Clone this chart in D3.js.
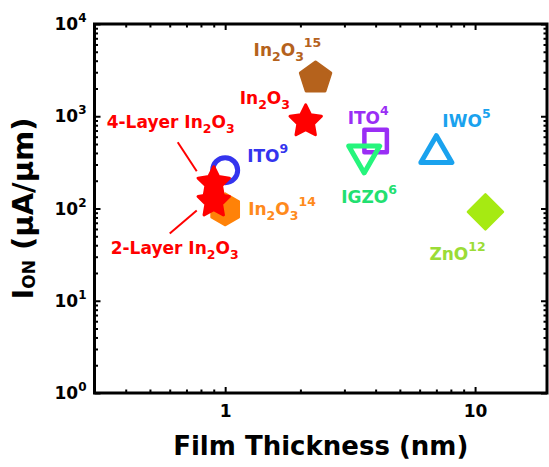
<!DOCTYPE html>
<meta charset="utf-8">
<style> /* set the CSS */

body { margin: 0; background: #fff; }

text {
  font-family: "DejaVu Sans", sans-serif;
  font-weight: bold;
}

.frame {
  fill: none;
  stroke: #000;
  stroke-width: 3px;
}

.axis path { display: none; }
.axis line { stroke: #000; stroke-width: 2px; }
.axis text { font-size: 17px; fill: #000; font-family: "DejaVu Sans", sans-serif; }

</style>
<body>

<!-- load the d3.js library -->
<script src="https://d3js.org/d3.v7.min.js"></script>

<script>

// the data
var samples   = ["ITO9", "In2O3-14", "4-Layer", "2-Layer", "In2O3", "In2O3-15", "ITO4", "IGZO6", "IWO5", "ZnO12"];
var thickness = [1.0, 1.0, 0.9, 0.9, 2.1, 2.3, 4.0, 3.6, 7.0, 11];
var ion       = [260, 98, 188, 119, 880, 2600, 540, 340, 440, 92];
var labels    = ["ITO^9", "In_2O_3^14", "4-Layer In_2O_3", "2-Layer In_2O_3", "In_2O_3",
                 "In_2O_3^15", "ITO^4", "IGZO^6", "IWO^5", "ZnO^12"];

// tick labels
var xTicks = [1, 10];
var xTickLabels = ["1", "10"];
var yTicks = [1, 10, 100, 1000, 10000];
var yTickExp = ["0", "1", "2", "3", "4"];

// marker styles
var shapes = ["circle", "hexagon", "star", "star", "star", "pentagon", "square", "triDown", "triUp", "diamond"];
var colors = ["#3434ee", "#ff8208", "#ff0000", "#ff0000", "#ff0000", "#b5621c", "#9a2ef5", "#25f57c", "#1aa2ee", "#a6ea12"];
var textColors = ["#3434ee", "#ff8a1c", "#ff0000", "#ff0000", "#ff0000", "#b5621c", "#9a2ef5", "#22e070", "#1aa2ee", "#9bdc36"];

// where each label sits, relative to its marker (text start, baseline)
var labelOffsets = [[22, -8], [23, 6], [-107, -55], [-103, 52], [-66, -17],
                    [-62, -22], [-28, -17], [-23, 44], [6, -22], [-56, 48]];
// leader lines: sample index, from (dx, dy) to (dx, dy)
var leaders = [[2, -36, -41, -17, -12], [3, -17, 9, -44, 32]];

// plot box
var width = 549, height = 467;
var pLeft = 94.5, pRight = 547, pTop = 24, pBottom = 393;

// set the ranges
var x = d3.scaleLog().domain([0.3, 19.4]).range([pLeft, pRight]);
var y = d3.scaleLog().domain([1, 10000]).range([pBottom, pTop]);

var svg = d3.select("body").append("svg")
    .attr("width", width)
    .attr("height", height);

// minor ticks
var xMinor = [];
[0.1, 1].forEach(function(d) {
  for (var i = 2; i < 10; i++) {
    var v = d * i;
    if (v > 0.3 && v < 19.4) xMinor.push(v);
  }
});
var yMinor = [];
[1, 10, 100, 1000].forEach(function(d) {
  for (var i = 2; i < 10; i++) yMinor.push(d * i);
});

// Add the X axes (ticks pointing in)
svg.append("g")
    .attr("class", "axis")
    .attr("transform", "translate(0," + pBottom + ")")
    .call(d3.axisBottom(x).tickValues(xTicks).tickSize(-6).tickPadding(12)
      .tickFormat(function(d, i) { return xTickLabels[i]; }));
svg.append("g")
    .attr("class", "axis")
    .attr("transform", "translate(0," + pBottom + ")")
    .call(d3.axisBottom(x).tickValues(xMinor).tickSize(-3.5).tickFormat(""));
svg.append("g")
    .attr("class", "axis")
    .attr("transform", "translate(0," + pTop + ")")
    .call(d3.axisTop(x).tickValues(xTicks).tickSize(-6).tickFormat(""));
svg.append("g")
    .attr("class", "axis")
    .attr("transform", "translate(0," + pTop + ")")
    .call(d3.axisTop(x).tickValues(xMinor).tickSize(-3.5).tickFormat(""));

// Add the Y axes
svg.append("g")
    .attr("class", "axis")
    .attr("transform", "translate(" + pLeft + ",0)")
    .call(d3.axisLeft(y).tickValues(yTicks).tickSize(-6).tickFormat(""));
svg.append("g")
    .attr("class", "axis")
    .attr("transform", "translate(" + pLeft + ",0)")
    .call(d3.axisLeft(y).tickValues(yMinor).tickSize(-3.5).tickFormat(""));
svg.append("g")
    .attr("class", "axis")
    .attr("transform", "translate(" + pRight + ",0)")
    .call(d3.axisRight(y).tickValues(yTicks).tickSize(-6).tickFormat(""));
svg.append("g")
    .attr("class", "axis")
    .attr("transform", "translate(" + pRight + ",0)")
    .call(d3.axisRight(y).tickValues(yMinor).tickSize(-3.5).tickFormat(""));

// y tick labels, 10 with a superscript
var yl = svg.append("g").selectAll("text")
    .data(yTicks)
  .enter().append("text")
    .attr("x", pLeft - 8)
    .attr("y", function(d) { return y(d) + 6; })
    .attr("text-anchor", "end")
    .style("font-size", "17px");
yl.append("tspan").text("10");
yl.append("tspan")
    .attr("dy", -8)
    .style("font-size", "12px")
    .text(function(d, i) { return yTickExp[i]; });

// frame
svg.append("rect")
    .attr("class", "frame")
    .attr("x", pLeft)
    .attr("y", pTop)
    .attr("width", pRight - pLeft)
    .attr("height", pBottom - pTop);

// marker shapes, size = radius
function polygon(n, rot) {
  return { draw: function(ctx, r) {
    for (var i = 0; i < n; i++) {
      var a = rot + i * 2 * Math.PI / n;
      if (i == 0) ctx.moveTo(r * Math.sin(a), -r * Math.cos(a));
      else ctx.lineTo(r * Math.sin(a), -r * Math.cos(a));
    }
    ctx.closePath();
  }};
}
function triangle(dir) {
  return { draw: function(ctx, r) {
    var h = 0.75 * r * dir, w = 0.866 * r;
    ctx.moveTo(0, -h);
    ctx.lineTo(w, h);
    ctx.lineTo(-w, h);
    ctx.closePath();
  }};
}
var starType = { draw: function(ctx, r) {
  for (var i = 0; i < 10; i++) {
    var a = i * Math.PI / 5, rr = i % 2 ? r * 0.5 : r;
    if (i == 0) ctx.moveTo(rr * Math.sin(a), -rr * Math.cos(a));
    else ctx.lineTo(rr * Math.sin(a), -rr * Math.cos(a));
  }
  ctx.closePath();
}};
var circleType = { draw: function(ctx, r) {
  ctx.moveTo(r, 0);
  ctx.arc(0, 0, r, 0, 2 * Math.PI);
}};

var shapeTypes = {
  circle:   { type: circleType, r: 12.5, fill: false, sw: 5 },
  hexagon:  { type: polygon(6, 0), r: 16, fill: true, sw: 2 },
  star:     { type: starType, r: 16.5, fill: true, sw: 3 },
  pentagon: { type: polygon(5, 0), r: 16, fill: true, sw: 3 },
  square:   { type: polygon(4, Math.PI / 4), r: 15.9, fill: false, sw: 4.5 },
  triDown:  { type: triangle(-1), r: 17.9, fill: false, sw: 5 },
  triUp:    { type: triangle(1), r: 17.9, fill: false, sw: 5 },
  diamond:  { type: polygon(4, 0), r: 17.5, fill: true, sw: 2.5 }
};

// Add the markers
svg.append("g").selectAll("path")
    .data(samples)
  .enter().append("path")
    .attr("transform", function(d, i) { return "translate(" + x(thickness[i]) + "," + y(ion[i]) + ")"; })
    .attr("d", function(d, i) {
      var s = shapeTypes[shapes[i]];
      return d3.symbol().type(s.type).size(s.r)();
    })
    .style("fill", function(d, i) { return shapeTypes[shapes[i]].fill ? colors[i] : "none"; })
    .style("stroke", function(d, i) { return colors[i]; })
    .style("stroke-width", function(d, i) { return shapeTypes[shapes[i]].sw; })
    .style("stroke-linejoin", "round");

// leader lines
svg.append("g").selectAll("line")
    .data(leaders)
  .enter().append("line")
    .attr("x1", function(d) { return x(thickness[d[0]]) + d[1]; })
    .attr("y1", function(d) { return y(ion[d[0]]) + d[2]; })
    .attr("x2", function(d) { return x(thickness[d[0]]) + d[3]; })
    .attr("y2", function(d) { return y(ion[d[0]]) + d[4]; })
    .style("stroke", "#ff0000")
    .style("stroke-width", 2);

// labels with sub / superscripts
function addLabel(sel, str) {
  var parts = str.match(/\^\d+|_\d+|[^_^]+/g);
  var shift = 0;
  parts.forEach(function(p) {
    var t = sel.append("tspan");
    var target = 0;
    if (p[0] == "_") { target = 5; p = p.slice(1); t.style("font-size", "12.5px"); }
    else if (p[0] == "^") { target = -9; p = p.slice(1); t.style("font-size", "12.5px"); }
    t.attr("dy", target - shift).text(p);
    shift = target;
  });
}

svg.append("g").selectAll("text")
    .data(samples)
  .enter().append("text")
    .attr("x", function(d, i) { return x(thickness[i]) + labelOffsets[i][0]; })
    .attr("y", function(d, i) { return y(ion[i]) + labelOffsets[i][1]; })
    .style("font-size", "17px")
    .style("fill", function(d, i) { return textColors[i]; })
    .each(function(d, i) { addLabel(d3.select(this), labels[i]); });

// axis titles
svg.append("text")
    .attr("x", (pLeft + pRight) / 2)
    .attr("y", 455)
    .attr("text-anchor", "middle")
    .style("font-size", "26px")
    .text("Film Thickness (nm)");

var yt = svg.append("text")
    .attr("transform", "translate(33," + ((pTop + pBottom) / 2) + ") rotate(-90)")
    .attr("text-anchor", "middle")
    .style("font-size", "29px");
yt.append("tspan").text("I");
yt.append("tspan").attr("dy", 2).style("font-size", "17px").text("ON");
yt.append("tspan").attr("dy", -2).text(" (μA/μm)");

</script>
</body>
